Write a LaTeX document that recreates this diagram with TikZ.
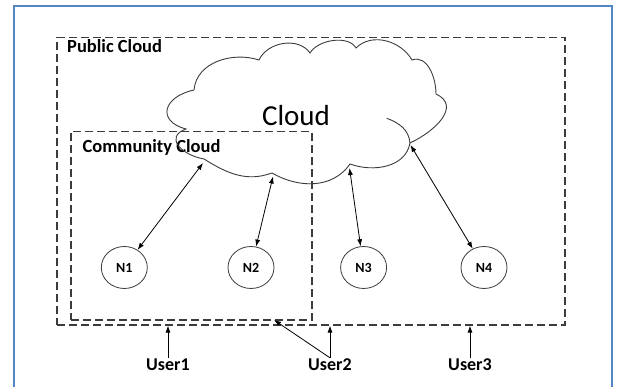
\documentclass[tikz,border=0pt]{standalone}
\usepackage{fontspec}
\setmainfont{Carlito}
\usetikzlibrary{arrows.meta,shapes.geometric}
\definecolor{framecol}{RGB}{84,134,196}
\definecolor{linecol}{RGB}{60,60,60}
\begin{document}
\begin{tikzpicture}[x=1pt,y=1pt,
  frame/.style={draw=framecol, line width=1.6pt},
  dbox/.style={draw=linecol, line width=1.2pt, dash pattern=on 8pt off 4pt, rectangle, inner sep=0pt},
  cloudline/.style={draw=linecol, line width=0.9pt},
  nd/.style={ellipse, draw=linecol, line width=0.8pt, minimum width=46pt, minimum height=42pt, inner sep=0pt, font=\fontsize{14}{16}\selectfont\bfseries},
  usr/.style={font=\fontsize{18}{20}\selectfont\bfseries, inner sep=1pt},
  lbl/.style={font=\fontsize{18.5}{20}\selectfont\bfseries, anchor=west, inner sep=0pt},
  tipx/.tip={Latex[length=7pt,width=5pt]},
  dbl/.style={tipx-tipx, line width=0.8pt, draw=black},
  upar/.style={-tipx, line width=0.8pt, draw=black}
]
\useasboundingbox (0,0) rectangle (619,387);
\fill[white] (0,0) rectangle (619,387);
% outer blue frame
\draw[frame] (14,-5) -- (14,381) -- (612,381) -- (612,-5);
% dashed boxes
\node[dbox, minimum width=508pt, minimum height=287.5pt] (pub) at (311,205.75) {};
\node[dbox, minimum width=241pt, minimum height=188.3pt] (comm) at (191.5,161.15) {};
\node[lbl] (publbl) at (67,341) {Public Cloud};
\node[lbl] (commlbl) at (82.5,240) {Community Cloud};
% cloud
\draw[cloudline] (194,297)
  to[out=85,in=162] (259,327)
  to[out=65,in=125] (310,334)
  to[out=60,in=120,looseness=0.85] (356,339)
  to[out=45,in=120] (412,327)
  to[out=20,in=90] (436,293)
  to[out=-25,in=25,looseness=1.3] (410,244)
  to[out=-100,in=-20] (350,223)
  to[out=-125,in=-30] (272,214)
  to[out=-160,in=-32] (204,228)
  to[out=170,in=200,looseness=1.7] (186,258)
  to[out=165,in=192,looseness=2] (194,297);
\draw[cloudline] (386.7,268.7) to[out=-20,in=95] (410,244);
\node[font=\fontsize{29}{32}\selectfont] (cloudlbl) at (296,271) {Cloud};
% cloud attachment points
\coordinate (a1) at (203,224);
\coordinate (a2) at (273,210.5);
\coordinate (a3) at (349.5,219);
\coordinate (a4) at (410.5,242);
% nodes
\node[nd] (n1) at (124.3,119.5) {N1};
\node[nd] (n2) at (251,119.5) {N2};
\node[nd] (n3) at (363.6,119.5) {N3};
\node[nd] (n4) at (484,119.5) {N4};
\draw[dbl] (n1) -- (a1);
\draw[dbl] (n2) -- (a2);
\draw[dbl] (n3) -- (a3);
\draw[dbl] (n4) -- (a4);
% users
\node[usr] (u1) at (168,22) {User1};
\node[usr] (u2) at (330,22) {User2};
\node[usr] (u3) at (470,22) {User3};
\coordinate (ct) at (274,67);
\draw[upar] (u1.north) -- (u1.north |- pub.south);
\draw[upar] (u2.north) -- (u2.north |- pub.south);
\draw[upar] (u2.north) -- (ct);
\draw[upar] (u3.north) -- (u3.north |- pub.south);
\end{tikzpicture}
\end{document}
